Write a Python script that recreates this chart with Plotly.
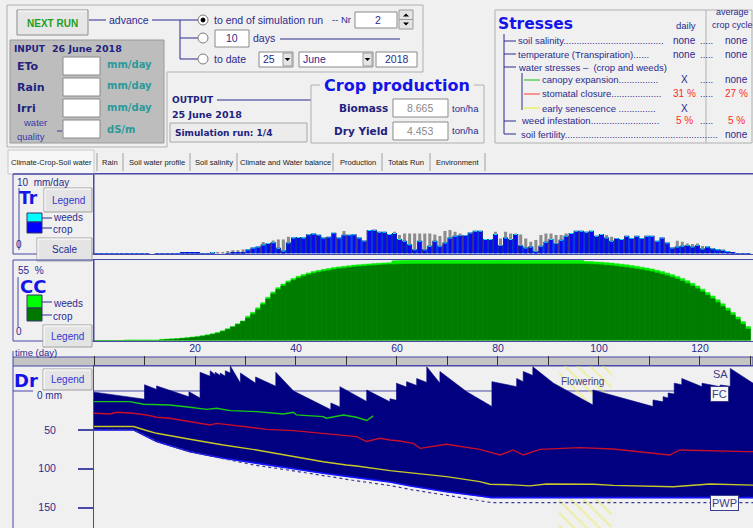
import plotly.graph_objects as go

W, H = 753, 528

# ---------------- data ----------------
days = list(range(1, 131))

# crop transpiration (mm/day)
tr_crop = [
    0.03, 0.03, 0.03, 0.03, 0.03, 0.03, 0.03, 0.03, 0.03, 0.03,
    0.03, 0.0, 0.03, 0.03, 0.03, 0.03, 0.03, 0.08, 0.08, 0.08,
    0.08, 0.03, 0.03, 0.03, 0.0, 0.0, 0.05, 0.1, 0.15, 0.2,
    0.42, 0.63, 0.76, 1.0, 1.2, 1.3, 0.6, 0.25, 1.25, 1.9,
    1.95, 1.9, 2.3, 2.4, 2.25, 1.9, 2.0, 2.5, 1.9, 2.25,
    2.25, 2.3, 1.9, 1.5, 2.83, 2.87, 2.62, 2.62, 2.32, 2.45,
    1.69, 1.48, 1.05, 0.42, 1.48, 0.42, 0.84, 1.48, 0.84, 1.27,
    1.9, 2.11, 2.19, 2.19, 2.53, 2.74, 2.74, 1.69, 1.69, 2.32,
    0.93, 1.9, 1.69, 2.32, 0.93, 0.63, 0.76, 0.21, 0.84, 1.35,
    1.69, 1.18, 1.6, 2.11, 2.45, 2.74, 2.74, 2.62, 2.74, 2.11,
    2.32, 1.9, 1.48, 1.81, 1.69, 2.11, 1.81, 2.11, 1.81, 2.11,
    2.11, 1.48, 1.9, 1.27, 0.63, 0.76, 0.84, 0.93, 0.76, 0.93,
    0.5, 0.76, 0.55, 0.42, 0.34, 0.17, 0.08, 0.03, 0.03, 0.03,
]
# weeds transpiration (mm/day)
tr_weeds = [0.0] * 23 + [0.05] + [0.0] * 6 + [0.12] * 96 + [0.0] * 4
# transpiration without water stress (mm/day)
tr_potential = [
    0, 0, 0, 0, 0, 0, 0, 0, 0, 0,
    0, 0, 0, 0, 0, 0, 0, 0, 0, 0,
    0, 0, 0, 0, 0.2, 0.2, 0.33, 0.42, 0.42, 0.5,
    0, 0, 0, 1.45, 0, 1.65, 1.75, 1.75, 2.1, 0,
    0, 0, 0, 0, 0, 0, 0, 0, 0, 2.83,
    0, 0, 0, 0, 0, 0, 0, 0, 0, 2.74,
    2.32, 2.53, 2.53, 2.53, 2.53, 2.53, 2.53, 2.4, 2.19, 2.83,
    2.95, 2.74, 2.53, 0, 0, 0, 0, 0, 0, 2.74,
    1.9, 2.74, 2.53, 2.53, 2.4, 1.9, 1.48, 1.69, 2.32, 2.53,
    2.53, 2.32, 2.32, 2.53, 0, 0, 0, 0, 0, 0,
    0, 2.32, 2.11, 0, 0, 0, 0, 0, 0, 0,
    0, 0, 0, 0, 0, 1.6, 1.48, 1.27, 1.18, 1.27,
    0.93, 0, 0, 0, 0, 0, 0, 0, 0, 0,
]

# canopy cover (%)
cc_crop = [
    0, 0, 0, 0, 0, 0, 0, 0, 0, 0,
    0, 0, 0, 0.4, 0.6, 0.8, 1.0, 1.3, 1.6, 2.0,
    2.4, 2.9, 3.5, 4.2, 5.0, 6.2, 7.6, 9.2, 11.0, 13.0,
    15.3, 18.0, 21.0, 24.5, 28.3, 31.8, 34.8, 37.3, 39.4, 41.1,
    42.6, 43.8, 44.9, 45.8, 46.6, 47.3, 47.9, 48.5, 49.0, 49.4,
    49.8, 50.2, 50.5, 50.8, 51.0, 51.3, 51.5, 51.7, 51.9, 52.0,
    52.1, 52.2, 52.3, 52.3, 52.3, 52.3, 52.3, 52.3, 52.3, 52.3,
    52.3, 52.3, 52.3, 52.3, 52.3, 52.3, 52.3, 52.3, 52.3, 52.3,
    52.3, 52.3, 52.3, 52.3, 52.3, 52.3, 52.3, 52.3, 52.3, 52.3,
    52.3, 52.3, 52.3, 52.3, 52.3, 52.3, 52.3, 52.2, 52.1, 51.9,
    51.7, 51.4, 51.1, 50.7, 50.3, 49.9, 49.4, 48.9, 48.3, 47.7,
    47.0, 46.2, 45.3, 44.3, 43.2, 42.0, 40.6, 39.0, 37.3, 35.4,
    33.3, 31.0, 28.6, 26.0, 23.3, 20.4, 17.4, 14.3, 11.1, 7.8,
]
cc_weeds = [0.0] * 6 + [0.4] * 24 + [1.3] * 29 + [2.5] * 38 + [1.8] * 33

# root zone depletion (mm below field capacity; negative = above FC)
dr_top_day = [0, 10, 10, 12.4, 12.4, 18.8, 18.8, 21, 21, 23, 23, 24, 24, 25, 25,
              26, 26, 27, 27, 29, 29, 32, 32, 36, 36, 39.5, 46.9, 46.9, 48.7,
              48.7, 54, 54, 58.6, 58.6, 59.9, 59.9, 61.9, 61.9, 63.9, 63.9,
              65.9, 65.9, 68.5, 68.5, 73.8, 78.8, 78.8, 83.7, 83.7, 85, 85,
              86.9, 86.9, 91, 98.8, 98.8, 110.7, 110.7, 112.7, 112.7, 113.7,
              113.7, 114.9, 114.9, 116.4, 116.4, 120.4, 120.4, 124, 124, 126,
              126, 130.5]
dr_top_mm = [1.5, 10.5, -8, -2, -6.5, 7.5, 1, 9, -24, -19, -26, -21, -24, -20,
             -23, -19, -26, -23, -32, -10, -23, -10, -18, -6, -24, 0, 24, 15.5,
             20.5, -5.5, 13.5, -1.3, 14, 10, 12, -10, -5, -12, -7, -16, -11,
             -31, -10, -25, 1, 20, -12, -5.5, -16, -12, -25, -20, -31, -10, 18,
             -1.3, 20, 11.5, 14, 7.3, 9, 2.6, 4, -10, -8, -16, -5.5, -10, -5.5,
             -7.7, -6, -29, -10]
# total available water limit of the root zone (mm)
dr_root_day = [0, 7.8, 12.4, 19, 25.6, 32, 38.8, 45.4, 52, 58.6, 63, 69.8, 76.4, 78.7, 130.5]
dr_root_mm = [50, 50, 65, 78, 86.5, 93, 99, 105.7, 111.4, 117, 122.5, 129.5, 135, 137, 137]
# wilting point depletion (mm)
dr_pwp_day = [0, 7.8, 12.4, 19, 25.6, 32, 38.8, 45.4, 52, 58.6, 63, 69.8, 76.4, 78.7, 130.5]
dr_pwp_mm = [50, 50, 65, 78, 87, 95.5, 102, 109, 115.5, 121.5, 127, 134, 140.5, 143.5, 143.5]

# stress thresholds (mm)
thr_exp_day = [0, 7.1, 9.8, 12.4, 15, 19, 22.3, 24.3, 27, 32.2, 37.5, 39.5, 40.1,
               45.4, 46, 49.4, 52, 54, 55.3]
thr_exp_mm = [13.7, 13.7, 17.1, 17.1, 18, 21, 23.6, 22.3, 25.3, 26.6, 29.6, 27.4,
              30.8, 33, 35, 30.8, 33.8, 38, 32]
thr_sto_day = [0, 3.2, 4.5, 7.8, 10.4, 12.4, 15, 19, 23, 24.3, 28.9, 34.2, 39.5,
               45.4, 52, 54, 56.6, 58.6, 60.6, 63.2, 64.6, 69.8, 76.4, 80.4, 83,
               85, 88.3, 96.2, 102.8, 114, 116, 129.2, 130.5]
thr_sto_mm = [28.6, 29.6, 27.4, 28.6, 30.8, 33.8, 35, 39.4, 43.7, 41.6, 45, 49.3,
              51, 54.4, 58.7, 65, 60.8, 63, 64.3, 67.3, 73.7, 68.5, 75, 82.3, 75.8,
              82.3, 75, 72.8, 74.6, 82.3, 75.8, 78, 78]
thr_sen_day = [0, 7.8, 10.4, 12.4, 19, 25.6, 32.2, 38.8, 45.4, 50, 52, 58.6, 63.2,
               69.8, 76.4, 78.4, 83, 86.3, 89.6, 99, 102.8, 114.7, 122, 130.5]
thr_sen_mm = [45.7, 45.7, 50.8, 54.4, 62, 69.4, 75.8, 83.5, 90.9, 95.1, 96.4,
              102.4, 105.8, 110, 116.5, 119.9, 120.7, 122, 119.5, 119.9, 121.3,
              123, 119.6, 121]

flowering = (92, 102.5)
time_ticks = [20, 40, 60, 80, 100, 120]
dr_ticks = [50, 100, 150]
day_max = 130.5
tr_max, cc_max = 10, 55
dr_min, dr_max = -32.1, 176.1

# ---------------- styling ----------------
BG = "#f0f0f0"
NAVY_T = "#2a2a8e"
BORDER = "#4848a8"
FRAME = "#b0b0b0"
BLUE_T = "#1414e6"
TEAL = "#2b9a9a"
SANS = "Liberation Sans, Arial, sans-serif"
VERD = "DejaVu Sans, Verdana, sans-serif"

shapes, annotations = [], []


def fx(x):
    return x / W


def fy(y):
    return 1 - y / H


def rect(x0, y0, x1, y1, fill=None, line=None, lw=1, layer="above"):
    shapes.append(dict(type="rect", xref="paper", yref="paper",
                       x0=fx(x0), x1=fx(x1), y0=fy(y1), y1=fy(y0),
                       fillcolor=fill or "rgba(0,0,0,0)",
                       line=dict(color=line or "rgba(0,0,0,0)", width=lw if line else 0),
                       layer=layer))


def seg(x0, y0, x1, y1, color=NAVY_T, lw=1, dash="solid", layer="above"):
    shapes.append(dict(type="line", xref="paper", yref="paper",
                       x0=fx(x0), x1=fx(x1), y0=fy(y0), y1=fy(y1),
                       line=dict(color=color, width=lw, dash=dash), layer=layer))


def circle(cx, cy, r, fill, line=None):
    shapes.append(dict(type="circle", xref="paper", yref="paper",
                       x0=fx(cx - r), x1=fx(cx + r), y0=fy(cy + r), y1=fy(cy - r),
                       fillcolor=fill, line=dict(color=line or fill, width=1), layer="above"))


def tri(cx, cy, s, down=True):
    if down:
        pts = [(cx - s, cy - s / 2), (cx + s, cy - s / 2), (cx, cy + s / 2)]
    else:
        pts = [(cx - s, cy + s / 2), (cx + s, cy + s / 2), (cx, cy - s / 2)]
    path = "M " + " L ".join(f"{fx(px)},{fy(py)}" for px, py in pts) + " Z"
    shapes.append(dict(type="path", xref="paper", yref="paper", path=path,
                       fillcolor="#000000", line=dict(width=0), layer="above"))


def txt(x, y, s, size=10, color=NAVY_T, anchor="left", family=SANS, bold=False,
        bg=None, border=None):
    annotations.append(dict(
        x=fx(x), y=fy(y), xref="paper", yref="paper",
        text=f"<b>{s}</b>" if bold else s, showarrow=False,
        xanchor=anchor, yanchor="middle",
        font=dict(size=size, color=color, family=family),
        bgcolor=bg or "rgba(0,0,0,0)",
        bordercolor=border or "rgba(0,0,0,0)", borderwidth=1, borderpad=1))


def button(x0, y0, x1, y1, label, color="#3535d0", size=10):
    rect(x0, y0, x1, y1, fill="#e4e4e4", line="#a0a0a0")
    seg(x0 + 1, y0 + 1, x1 - 1, y0 + 1, color="#ffffff")
    seg(x0 + 1, y0 + 1, x0 + 1, y1 - 1, color="#ffffff")
    txt((x0 + x1) / 2, (y0 + y1) / 2, label, size=size, color=color, anchor="center")


def field(x0, y0, x1, y1, fill="#ffffff"):
    rect(x0, y0, x1, y1, fill=fill, line="#8a8a8a")


# ---------------- top control area ----------------
for a, b in [((7, 5), (423, 5)), ((423, 5), (423, 72)), ((167, 72), (423, 72)),
             ((167, 72), (167, 147)), ((7, 5), (7, 147)), ((7, 147), (167, 147))]:
    seg(a[0], a[1], b[0], b[1], color=FRAME)

rect(17, 10, 88, 35, fill="#e6e6e6", line="#8c8c8c")
seg(18, 11, 87, 11, color="#ffffff")
txt(52.5, 23, "NEXT RUN", size=10, color="#1f9e1f", anchor="center", family=SANS, bold=True)

seg(89, 20, 106, 20)
txt(107, 20, "advance", size=10.5)
seg(152, 20, 180, 20)
seg(180, 20, 180, 59)
for yy in (20, 38, 59):
    seg(180, yy, 198, yy)
    circle(203, yy, 5, "#ffffff", "#7a7a7a")
circle(203, 20, 2, "#000000")
txt(212, 20, "to end of simulation run", size=10.5)
txt(330, 20, "-- Nr", size=9.5)
field(355, 12, 397, 28)
txt(378, 20, "2", size=10.5, anchor="center")
rect(399, 10, 413, 29, fill="#e4e4e4", line="#9a9a9a")
seg(399, 19.5, 413, 19.5, color="#9a9a9a")
tri(406, 15, 3, down=False)
tri(406, 24, 3, down=True)

field(215, 30, 249, 47)
txt(232, 38.5, "10", size=10.5, anchor="center")
txt(251, 38, "days", size=10.5)
seg(280, 39, 400, 39)

txt(212, 59, "to date", size=10.5)
field(259, 52, 293, 67)
txt(261, 59.5, "25", size=10.5)
rect(283, 53, 292, 66, fill="#e4e4e4", line="#9a9a9a")
tri(287.5, 59.5, 2.8)
field(299, 52, 373, 67)
txt(301, 59.5, "June", size=10.5)
rect(363, 53, 372, 66, fill="#e4e4e4", line="#9a9a9a")
tri(367.5, 59.5, 2.8)
field(376, 52, 417, 67)
txt(396.5, 59.5, "2018", size=10.5, anchor="center")

# input panel
rect(10, 40, 164, 143, fill="#bdbdbd", line="#9a9a9a")
txt(12, 49, "INPUT", size=9, color="#22227e", family=VERD, bold=True)
txt(50, 48, "26 June 2018", size=9.5, color="#22227e", family=VERD, bold=True)
for yy, lab in [(66, "ETo"), (87, "Rain"), (108, "Irri")]:
    txt(15, yy, lab, size=11, color="#22227e", family=VERD, bold=True)
    txt(105, yy - 1, "mm/day", size=10, color=TEAL, family=VERD, bold=True)
for y0 in (57, 78, 99, 120):
    field(63, y0, 100, y0 + 18)
txt(21, 123, "water", size=9.5, color="#3a3aaa")
txt(15, 136, "quality", size=9.5, color="#3a3aaa")
seg(57, 131, 62, 131, color="#3a3aaa")
txt(105, 129, "dS/m", size=10, color=TEAL, family=VERD, bold=True)

# output
txt(170, 100, "OUTPUT", size=9, color="#22227e", family=VERD, bold=True)
seg(217, 100, 311, 100)
txt(170, 114, "25 June 2018", size=9.5, color="#22227e", family=VERD, bold=True)
rect(170, 123, 307, 142, fill="#ececec", line="#a8a8a8")
txt(173, 132.5, "Simulation run: 1/4", size=9, color="#22227e", family=VERD, bold=True)

# crop production
for a, b in [((311, 85), (320, 85)), ((474, 85), (484, 85)), ((484, 85), (484, 143)),
             ((311, 143), (484, 143)), ((311, 85), (311, 143))]:
    seg(a[0], a[1], b[0], b[1], color=FRAME)
txt(397, 86, "Crop production", size=16, color=BLUE_T, family=VERD, bold=True, anchor="center")
txt(390, 108, "Biomass", size=10.5, color="#22227e", family=VERD, bold=True, anchor="right")
txt(390, 131, "Dry Yield", size=10.5, color="#22227e", family=VERD, bold=True, anchor="right")
field(393, 99, 448, 117)
field(393, 122, 448, 140)
txt(420.5, 108, "8.665", size=10.5, color="#8a8a8a", anchor="center")
txt(420.5, 131, "4.453", size=10.5, color="#8a8a8a", anchor="center")
txt(450, 108, "ton/ha", size=9.5)
txt(450, 131, "ton/ha", size=9.5)

# stresses panel
rect(495, 10, 752, 143, line=FRAME)
seg(706, 10, 706, 143, color=FRAME)
txt(496, 24, "Stresses", size=15.5, color=BLUE_T, family=VERD, bold=True)
txt(686, 25, "daily", size=9.5, anchor="center")
txt(714, 12, "average", size=9)
txt(710, 25, "crop cycle", size=9)
seg(504, 34, 504, 134)
for yy in (41, 54, 67, 121, 134):
    seg(504, yy, 516, yy)
seg(522, 73, 522, 110)
seg(524, 80, 540, 80, color="#33cc33", lw=1.2)
seg(524, 94, 540, 94, color="#ff5555", lw=1.2)
seg(524, 108, 540, 108, color="#eeee44", lw=1.2)
RED = "#ff2a2a"
rows = [
    (41, 516, "soil salinity" + "." * 38, "none", "none", NAVY_T),
    (54, 516, "temperature (Transpiration)" + "." * 6, "none", "none", NAVY_T),
    (67, 516, "water stresses \u2013  (crop and weeds)", None, None, NAVY_T),
    (80, 540, "canopy expansion" + "." * 15, "X", "none", NAVY_T),
    (94, 540, "stomatal closure" + "." * 19, "31 %", "27 %", RED),
    (108, 540, "early senescence " + "." * 14, "X", None, NAVY_T),
    (121, 519, "weed infestation" + "." * 26, "5 %", "5 %", RED),
    (134, 519, "soil fertility" + "." * 58, None, "none", NAVY_T),
]
for yy, x0, label, daily, avg, vcol in rows:
    txt(x0, yy, label, size=9.5)
    if daily:
        txt(684, yy, daily, size=10, color=vcol if daily != "X" else NAVY_T, anchor="center")
    if avg:
        if not label.startswith("soil fertility"):
            txt(698, yy, ".....", size=9.5)
        txt(736, yy, avg, size=10, color=vcol, anchor="center")

# ---------------- tabs ----------------
rect(8, 150, 94, 174, fill="#f7f7f7", line="#c8c8c8")
for xs in (97, 123, 190, 237, 333, 382, 430, 485):
    seg(xs, 153, xs, 171, color="#a0a0a0")
for cx, lab in [(51, "Climate-Crop-Soil water"), (110, "Rain"), (156.5, "Soil water profile"),
                (213.5, "Soil salinity"), (285, "Climate and Water balance"),
                (357.5, "Production"), (406, "Totals Run"), (457.5, "Environment")]:
    txt(cx, 162, lab, size=7.6, color="#1a1a1a", anchor="center")

# ---------------- chart side panels ----------------
rect(13, 174, 94, 254, line=BORDER)
seg(13, 174, 753, 174, color=BORDER)
seg(19, 188, 19, 250, color=BORDER)
txt(15, 182, "10  mm/day", size=10)
txt(14, 244, "0", size=10)
txt(17, 198, "Tr", size=17, color=BLUE_T, family=VERD, bold=True)
rect(27, 213, 42, 222, fill="#00ffff", line="#333366")
rect(27, 222, 42, 233, fill="#0000ff", line="#333366")
seg(42, 218, 52, 218)
seg(42, 228, 52, 228)
txt(51, 217, "weeds", size=10)
txt(51, 229, "crop", size=10)
button(44, 188, 92, 212, "Legend")
button(37, 238, 92, 261, "Scale", color="#2a2a8e")

rect(13, 260, 94, 341, line=BORDER)
seg(18, 277, 18, 327, color=BORDER)
txt(16, 270, "55  %", size=10)
txt(14, 331, "0", size=10)
txt(18, 286, "CC", size=18, color=BLUE_T, family=VERD, bold=True)
rect(27, 295, 42, 308, fill="#00ff00", line="#333366")
rect(27, 308, 42, 321, fill="#007800", line="#333366")
seg(42, 302, 52, 302)
seg(42, 315, 52, 315)
txt(51, 303, "weeds", size=10)
txt(51, 316, "crop", size=10)
button(43, 325, 92, 347, "Legend")

rect(13, 357, 753, 366, fill="#c4c4c4", line=BORDER, layer="below")
seg(13, 351, 13, 357, color=BORDER)
txt(13, 352, "time (day)", size=9.5)
seg(13, 366, 13, 528, color=BORDER)
seg(13, 391, 33, 391, color=BORDER)
txt(12, 380, "Dr", size=18, color=BLUE_T, family=VERD, bold=True)
button(43, 369, 92, 390, "Legend")
txt(35, 395, "0 mm", size=10)

# ---------------- traces ----------------
fig = go.Figure()
tr_total = [c + w for c, w in zip(tr_crop, tr_weeds)]
cc_total = [c + w for c, w in zip(cc_crop, cc_weeds)]

fig.add_trace(go.Bar(x=days, y=tr_potential, width=0.6, offset=-0.8,
                     marker=dict(color="#8c8c8c", line=dict(width=0)), xaxis="x", yaxis="y"))
fig.add_trace(go.Bar(x=days, y=tr_total, width=1, offset=-1,
                     marker=dict(color="#000070", line=dict(width=0)), xaxis="x", yaxis="y"))
fig.add_trace(go.Bar(x=days, y=tr_total, width=0.7, offset=-0.85,
                     marker=dict(color="#10e0ff", line=dict(width=0)), xaxis="x", yaxis="y"))
fig.add_trace(go.Bar(x=days, y=tr_crop, width=0.7, offset=-0.85,
                     marker=dict(color="#0a0aee", line=dict(width=0)), xaxis="x", yaxis="y"))

fig.add_trace(go.Bar(x=days, y=cc_total, width=1, offset=-1,
                     marker=dict(color="#00f000", line=dict(color="#00f000", width=0.5)),
                     xaxis="x2", yaxis="y2"))
fig.add_trace(go.Bar(x=days, y=cc_crop, width=1, offset=-1,
                     marker=dict(color="#007d00", line=dict(color="#007d00", width=0.5)),
                     xaxis="x2", yaxis="y2"))

# flowering period
fig.add_trace(go.Bar(x=[(flowering[0] + flowering[1]) / 2], y=[dr_max - dr_min], base=[dr_min],
                     width=[flowering[1] - flowering[0]],
                     marker=dict(color="rgba(0,0,0,0)", line=dict(width=0),
                                 pattern=dict(shape="\\", fgcolor="#eded60", bgcolor="rgba(0,0,0,0)",
                                              size=9, solidity=0.25)),
                     xaxis="x3", yaxis="y3"))
# water in root zone
fig.add_trace(go.Scatter(x=dr_top_day + dr_root_day[::-1], y=dr_top_mm + dr_root_mm[::-1],
                         fill="toself", fillcolor="#000080", mode="lines",
                         line=dict(width=0.6, color="#000080"), xaxis="x3", yaxis="y3"))
fig.add_trace(go.Scatter(x=dr_root_day, y=dr_root_mm, mode="lines",
                         line=dict(color="#1414ff", width=1.6), xaxis="x3", yaxis="y3"))
fig.add_trace(go.Scatter(x=dr_pwp_day, y=dr_pwp_mm, mode="lines",
                         line=dict(color="#3a3a9a", width=1.2, dash="3px,3px"), xaxis="x3", yaxis="y3"))
fig.add_trace(go.Scatter(x=thr_exp_day, y=thr_exp_mm, mode="lines",
                         line=dict(color="#18c818", width=1.4), xaxis="x3", yaxis="y3"))
fig.add_trace(go.Scatter(x=thr_sto_day, y=thr_sto_mm, mode="lines",
                         line=dict(color="#c80f2a", width=1.4), xaxis="x3", yaxis="y3"))
fig.add_trace(go.Scatter(x=thr_sen_day, y=thr_sen_mm, mode="lines",
                         line=dict(color="#c8c828", width=1.4), xaxis="x3", yaxis="y3"))

# field capacity reference line
shapes.append(dict(type="line", xref="x3", yref="y3", x0=0, x1=day_max, y0=0, y1=0,
                   line=dict(color=BORDER, width=1), layer="below"))

annotations.append(dict(x=flowering[0], y=dr_min + 20, xref="x3", yref="y3", text="Flowering",
                        showarrow=False, xanchor="left", yanchor="middle",
                        font=dict(size=10, color="#3c3c8c", family=SANS)))
txt(720, 374, "SA", size=11, color="#3c3c8c", anchor="center")
annotations.append(dict(x=fx(719), y=0, xref="paper", yref="y3", text="FC", showarrow=False,
                        xanchor="center", yanchor="middle", yshift=-3,
                        font=dict(size=11, color="#3c3c8c", family=SANS),
                        bgcolor="#f6f6f6", bordercolor="#3c3c8c", borderwidth=1, borderpad=1))
annotations.append(dict(x=fx(724), y=dr_pwp_mm[-1], xref="paper", yref="y3", text="PWP",
                        showarrow=False, xanchor="center", yanchor="middle",
                        font=dict(size=11, color="#3c3c8c", family=SANS),
                        bgcolor="#f6f6f6", bordercolor="#3c3c8c", borderwidth=1, borderpad=1))

dom_x = [fx(94), 1]
axis_common = dict(showgrid=False, zeroline=False, range=[0, day_max], domain=dom_x, fixedrange=True)
fig.update_layout(
    width=W, height=H, autosize=False,
    margin=dict(l=0, r=0, t=0, b=0, pad=0),
    paper_bgcolor=BG, plot_bgcolor=BG,
    showlegend=False, barmode="overlay",
    xaxis=dict(**axis_common, anchor="y", showticklabels=False, ticks="",
               showline=True, linecolor=BORDER, mirror=True),
    yaxis=dict(domain=[fy(253.5), fy(174)], range=[0, tr_max], anchor="x",
               showgrid=False, zeroline=False, showticklabels=False, ticks="",
               showline=True, linecolor=BORDER),
    xaxis2=dict(**axis_common, anchor="y2", showticklabels=False, ticks="",
                showline=True, linecolor=BORDER, mirror=True),
    yaxis2=dict(domain=[fy(340.5), fy(260)], range=[0, cc_max], anchor="x2",
                showgrid=False, zeroline=False, showticklabels=False, ticks="",
                showline=True, linecolor=BORDER),
    xaxis3=dict(**axis_common, anchor="y3", side="top",
                tickvals=time_ticks, ticks="outside", ticklen=9, tickwidth=1,
                tickcolor="#303030", showline=True, linecolor=BORDER,
                tickfont=dict(size=10.5, color=NAVY_T, family=SANS),
                minor=dict(dtick=10, tick0=0, ticks="outside", ticklen=9, tickcolor="#303030")),
    yaxis3=dict(domain=[0, fy(366)], range=[dr_max, dr_min], anchor="x3",
                showgrid=False, zeroline=False, tickvals=dr_ticks,
                ticks="outside", ticklen=15, tickwidth=1.5, tickcolor=BORDER,
                ticklabelstandoff=20,
                tickfont=dict(size=10.5, color=NAVY_T, family=SANS),
                showline=True, linecolor=BORDER),
    shapes=shapes, annotations=annotations,
)

fig.write_html("out.html")
